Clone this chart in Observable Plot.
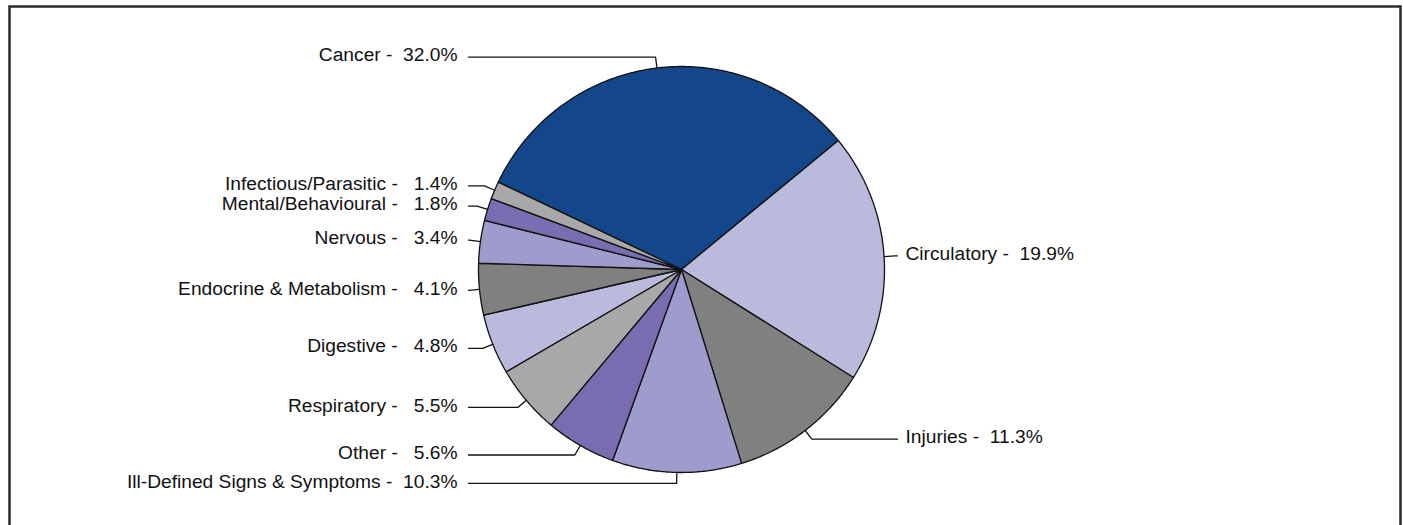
<!DOCTYPE html>
<html><head><meta charset="utf-8">
<script src="https://cdn.jsdelivr.net/npm/d3@7"></script>
<script src="https://cdn.jsdelivr.net/npm/@observablehq/plot@0.6"></script>
<style>body{margin:0;background:#fff} svg text{white-space:pre}</style>
</head><body><div id="chart"></div>
<script>
const categories = ["Cancer","Circulatory","Injuries","Ill-Defined Signs & Symptoms","Other","Respiratory","Digestive","Endocrine & Metabolism","Nervous","Mental/Behavioural","Infectious/Parasitic"];
const percents = [32.0,19.9,11.3,10.3,5.6,5.5,4.8,4.1,3.4,1.8,1.4];
const colors = ["#14468a","#babbdc","#808080","#9e9ccc","#7a6cb0","#a8a8a8","#babbdc","#808080","#9e9ccc","#7a6cb0","#a8a8a8"];

const W = 1403, H = 525, cx = 681, cy = 269, R = 203;
const toRad = Math.PI / 180;
const start = -64.5 * toRad;
const arcs = d3.pie().sort(null).startAngle(start).endAngle(start + 2 * Math.PI)(percents);
const pt = (a, r) => ({x: cx + r * Math.sin(a), y: cy - r * Math.cos(a)});

const slices = [];
arcs.forEach((d, i) => {
  const name = categories[i];
  slices.push({name, ...pt(0, 0)});
  const n = Math.max(2, Math.ceil((d.endAngle - d.startAngle) / (0.5 * toRad)));
  for (let k = 0; k <= n; k++) {
    const a = d.startAngle + (d.endAngle - d.startAngle) * k / n;
    slices.push({name, ...pt(a, R)});
  }
  slices.push({name, ...pt(0, 0)});
});

const leftLineX = 468, rightLineX = 897, leftTextX = 457, rightTextX = 905;
const leaders = [], labels = [];
arcs.forEach((d, i) => {
  const a = (d.startAngle + d.endAngle) / 2;
  const left = Math.sin(a) < 0;
  const e = pt(a, R), p = pt(a, R + 11);
  leaders.push({k: i, x: e.x, y: e.y}, {k: i, x: p.x, y: p.y}, {k: i, x: left ? leftLineX : rightLineX, y: p.y});
  const v = percents[i];
  labels.push({
    left,
    x: left ? leftTextX : rightTextX,
    y: p.y,
    text: `${categories[i]} -  ${v < 10 ? "\u2008" : ""}${v.toFixed(1)}%`
  });
});

const chart = Plot.plot({
  width: W, height: H, margin: 0,
  x: {domain: [0, W], range: [0, W], axis: null},
  y: {domain: [0, H], range: [0, H], axis: null},
  color: {domain: categories, range: colors},
  style: {fontFamily: "'Liberation Sans', Arial, sans-serif", background: "#fff", overflow: "hidden"},
  marks: [
    Plot.frame({stroke: "#2a2a2a", strokeWidth: 2.5, insetLeft: 9, insetTop: 6, insetRight: 3, insetBottom: -20}),
    Plot.line(slices, {x: "x", y: "y", z: "name", fill: "name", stroke: "#111", strokeWidth: 1.3, strokeLinejoin: "round"}),
    Plot.line(leaders, {x: "x", y: "y", z: "k", stroke: "#111", strokeWidth: 1.3}),
    Plot.text(labels.filter(d => d.left), {x: "x", y: "y", text: "text", textAnchor: "end", fontSize: 19.2, dy: -2, fill: "#111"}),
    Plot.text(labels.filter(d => !d.left), {x: "x", y: "y", text: "text", textAnchor: "start", fontSize: 19.2, dy: -2, fill: "#111"})
  ]
});
document.getElementById("chart").appendChild(chart);
</script>
</body></html>
